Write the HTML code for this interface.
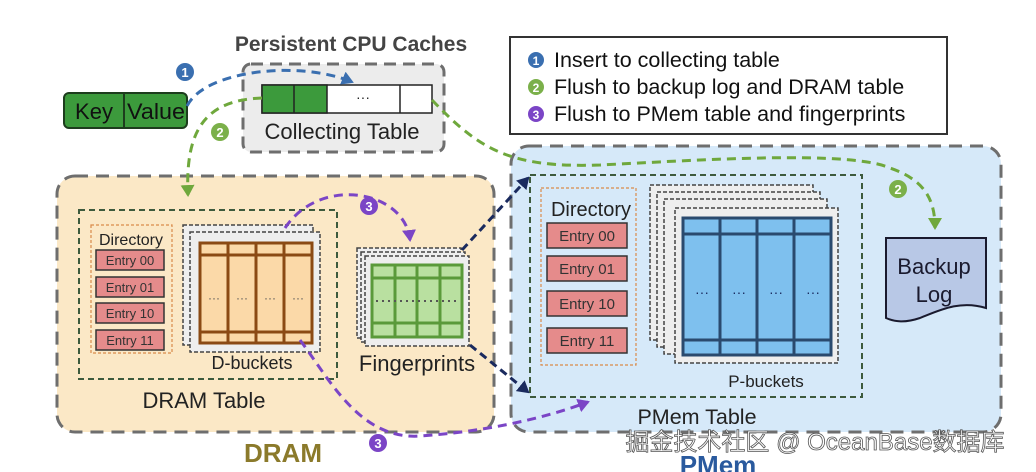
<!DOCTYPE html>
<html><head><meta charset="utf-8"><style>
html,body{margin:0;padding:0;background:#fff}
svg{display:block}
text{font-family:"Liberation Sans",Arial,sans-serif}
</style></head><body>
<svg width="1036" height="472" viewBox="0 0 1036 472" xmlns="http://www.w3.org/2000/svg">
<defs>
<marker id="ab" markerWidth="14" markerHeight="14" refX="10" refY="7" orient="auto" markerUnits="userSpaceOnUse"><path d="M0,0 L12,7 L0,14 z" fill="#3a6fb0"/></marker>
<marker id="ag" markerWidth="14" markerHeight="14" refX="10" refY="7" orient="auto" markerUnits="userSpaceOnUse"><path d="M0,0 L12,7 L0,14 z" fill="#6fa83c"/></marker>
<marker id="ap" markerWidth="14" markerHeight="14" refX="10" refY="7" orient="auto" markerUnits="userSpaceOnUse"><path d="M0,0 L12,7 L0,14 z" fill="#7b45c6"/></marker>
<marker id="an" markerWidth="14" markerHeight="14" refX="10" refY="7" orient="auto" markerUnits="userSpaceOnUse"><path d="M0,0 L12,7 L0,14 z" fill="#1a2a5e"/></marker>
</defs>

<rect x="57" y="176" width="437" height="256" rx="18" fill="#fbe8c6" stroke="#6e6e6e" stroke-width="3" stroke-dasharray="13,8"/>
<rect x="511" y="146" width="490" height="286" rx="18" fill="#d6e9f9" stroke="#6e6e6e" stroke-width="3" stroke-dasharray="13,8"/>

<text x="351" y="51" font-size="21" font-weight="bold" fill="#444" text-anchor="middle">Persistent CPU Caches</text>
<rect x="243" y="64" width="201" height="88" rx="8" fill="#ececec" stroke="#6e6e6e" stroke-width="3" stroke-dasharray="12,7"/>
<rect x="262" y="85" width="170" height="28" fill="#fff" stroke="#222" stroke-width="1.5"/>
<rect x="262" y="85" width="65" height="28" fill="#3c9a3c" stroke="#222" stroke-width="1.5"/>
<line x1="294" y1="85" x2="294" y2="113" stroke="#222" stroke-width="1.5"/>
<line x1="400" y1="85" x2="400" y2="113" stroke="#222" stroke-width="1.5"/>
<text x="363" y="102" font-size="14" text-anchor="middle" fill="#222">···</text>
<text x="342" y="139" font-size="22" text-anchor="middle" fill="#222">Collecting Table</text>

<rect x="64" y="93" width="123" height="35" rx="5" fill="#3c9a3c" stroke="#1d3d1d" stroke-width="2"/>
<line x1="124" y1="93" x2="124" y2="128" stroke="#1d3d1d" stroke-width="2"/>
<text x="94" y="119" font-size="22" text-anchor="middle" fill="#111">Key</text>
<text x="156" y="119" font-size="22" text-anchor="middle" fill="#111" textLength="58" lengthAdjust="spacingAndGlyphs">Value</text>

<rect x="510" y="37" width="437" height="97" fill="#fff" stroke="#333" stroke-width="2"/>
<circle cx="536" cy="60" r="8" fill="#3a6fb0"/><text x="536" y="65" font-size="12" font-weight="bold" fill="#fff" text-anchor="middle">1</text>
<circle cx="536" cy="87" r="8" fill="#7bb04a"/><text x="536" y="92" font-size="12" font-weight="bold" fill="#fff" text-anchor="middle">2</text>
<circle cx="536" cy="114" r="8" fill="#7b45c6"/><text x="536" y="119" font-size="12" font-weight="bold" fill="#fff" text-anchor="middle">3</text>
<text x="554" y="67" font-size="21.5" fill="#111">Insert to collecting table</text>
<text x="554" y="94" font-size="21.5" fill="#111">Flush to backup log and DRAM table</text>
<text x="554" y="121" font-size="21.5" fill="#111">Flush to PMem table and fingerprints</text>

<rect x="79" y="210" width="258" height="169" fill="none" stroke="#3d5a3d" stroke-width="2" stroke-dasharray="6,4"/>
<text x="204" y="408" font-size="22" text-anchor="middle" fill="#222">DRAM Table</text>
<rect x="91" y="225" width="81" height="128" fill="none" stroke="#d98a4a" stroke-width="1.2" stroke-dasharray="3,2"/>
<text x="131" y="245" font-size="16" text-anchor="middle" fill="#222">Directory</text>
<g fill="#e58b8b" stroke="#333" stroke-width="1.5">
<rect x="96" y="250" width="68" height="20"/><rect x="96" y="277" width="68" height="20"/><rect x="96" y="303" width="68" height="20"/><rect x="96" y="330" width="68" height="20"/>
</g>
<g font-size="13" text-anchor="middle" fill="#333">
<text x="130" y="265">Entry 00</text><text x="130" y="292">Entry 01</text><text x="130" y="318">Entry 10</text><text x="130" y="345">Entry 11</text>
</g>
<rect x="183" y="225" width="130" height="120" fill="#eee" stroke="#444" stroke-width="1.5" stroke-dasharray="4,2"/>
<rect x="190" y="232" width="130" height="120" fill="#eee" stroke="#444" stroke-width="1.5" stroke-dasharray="4,2"/>
<rect x="200" y="243" width="112" height="100" fill="#fbd9a8" stroke="#8b4a14" stroke-width="3"/>
<g stroke="#8b4a14" stroke-width="3">
<line x1="228" y1="243" x2="228" y2="343"/><line x1="256" y1="243" x2="256" y2="343"/><line x1="284" y1="243" x2="284" y2="343"/>
<line x1="200" y1="255" x2="312" y2="255"/><line x1="200" y1="332" x2="312" y2="332"/>
</g>
<g font-size="12" text-anchor="middle" fill="#555"><text x="214" y="302">···</text><text x="242" y="302">···</text><text x="270" y="302">···</text><text x="298" y="302">···</text></g>
<text x="252" y="369" font-size="18" text-anchor="middle" fill="#222">D-buckets</text>

<rect x="357" y="248" width="104" height="90" fill="#eee" stroke="#444" stroke-width="1.5" stroke-dasharray="4,2"/>
<rect x="361" y="252" width="104" height="90" fill="#eee" stroke="#444" stroke-width="1.5" stroke-dasharray="4,2"/>
<rect x="365" y="256" width="104" height="90" fill="#eee" stroke="#444" stroke-width="1.5" stroke-dasharray="4,2"/>
<rect x="372" y="265" width="90" height="72" fill="#b9e0a0" stroke="#5a9a3a" stroke-width="3"/>
<g stroke="#5a9a3a" stroke-width="3">
<line x1="395" y1="265" x2="395" y2="337"/><line x1="417" y1="265" x2="417" y2="337"/><line x1="440" y1="265" x2="440" y2="337"/>
<line x1="372" y1="278" x2="462" y2="278"/><line x1="372" y1="323" x2="462" y2="323"/>
</g>
<line x1="376" y1="301" x2="460" y2="301" stroke="#555" stroke-width="2" stroke-dasharray="2,4"/>
<text x="417" y="371" font-size="22" text-anchor="middle" fill="#222">Fingerprints</text>

<text x="283" y="462" font-size="26" font-weight="bold" text-anchor="middle" fill="#8b7a2b">DRAM</text>

<rect x="530" y="175" width="332" height="222" fill="none" stroke="#3d5a3d" stroke-width="2" stroke-dasharray="6,4"/>
<text x="697" y="424" font-size="21.5" text-anchor="middle" fill="#222">PMem Table</text>
<rect x="541" y="188" width="95" height="177" fill="none" stroke="#d98a4a" stroke-width="1.2" stroke-dasharray="3,2"/>
<text x="591" y="216" font-size="20" text-anchor="middle" fill="#222">Directory</text>
<g fill="#e58b8b" stroke="#333" stroke-width="1.5">
<rect x="547" y="223" width="80" height="25"/><rect x="547" y="256" width="80" height="25"/><rect x="547" y="291" width="80" height="25"/><rect x="547" y="328" width="80" height="25"/>
</g>
<g font-size="15" text-anchor="middle" fill="#333">
<text x="587" y="241">Entry 00</text><text x="587" y="274">Entry 01</text><text x="587" y="309">Entry 10</text><text x="587" y="346">Entry 11</text>
</g>
<rect x="650" y="185" width="163" height="155" fill="#eee" stroke="#444" stroke-width="1.5" stroke-dasharray="4,2"/>
<rect x="657" y="192" width="163" height="155" fill="#eee" stroke="#444" stroke-width="1.5" stroke-dasharray="4,2"/>
<rect x="664" y="199" width="163" height="155" fill="#eee" stroke="#444" stroke-width="1.5" stroke-dasharray="4,2"/>
<rect x="675" y="208" width="163" height="155" fill="#eee" stroke="#444" stroke-width="1.5" stroke-dasharray="4,2"/>
<rect x="683" y="218" width="148" height="137" fill="#7ec0ee" stroke="#2a4a6e" stroke-width="3"/>
<g stroke="#2a4a6e" stroke-width="3">
<line x1="720" y1="218" x2="720" y2="355"/><line x1="757" y1="218" x2="757" y2="355"/><line x1="794" y1="218" x2="794" y2="355"/>
<line x1="683" y1="234" x2="831" y2="234"/><line x1="683" y1="340" x2="831" y2="340"/>
</g>
<g font-size="14" text-anchor="middle" fill="#1a2a5e"><text x="702" y="297">···</text><text x="739" y="297">···</text><text x="776" y="297">···</text><text x="813" y="297">···</text></g>
<text x="766" y="387" font-size="17" text-anchor="middle" fill="#222">P-buckets</text>

<path d="M886,238 L986,238 L986,308 C960,300 940,310 920,318 C905,323 895,322 886,318 Z" fill="#b8c8e6" stroke="#1a1a2e" stroke-width="2"/>
<text x="934" y="274" font-size="22" text-anchor="middle" fill="#1a1a2e">Backup</text>
<text x="934" y="302" font-size="22" text-anchor="middle" fill="#1a1a2e">Log</text>

<path d="M187,106 C205,70 300,60 352,82" fill="none" stroke="#3a6fb0" stroke-width="3" stroke-dasharray="9,6" marker-end="url(#ab)"/>
<circle cx="185" cy="72" r="9" fill="#3a6fb0"/><text x="185" y="77" font-size="13" font-weight="bold" fill="#fff" text-anchor="middle">1</text>
<path d="M262,98 C205,100 185,130 188,195" fill="none" stroke="#6fa83c" stroke-width="3" stroke-dasharray="9,6" marker-end="url(#ag)"/>
<circle cx="220" cy="132" r="9" fill="#7bb04a"/><text x="220" y="137" font-size="13" font-weight="bold" fill="#fff" text-anchor="middle">2</text>
<path d="M432,100 C480,150 510,168 600,165 C700,160 850,150 890,168 C925,180 935,200 935,228" fill="none" stroke="#6fa83c" stroke-width="3" stroke-dasharray="9,6" marker-end="url(#ag)"/>
<circle cx="898" cy="189" r="9" fill="#7bb04a"/><text x="898" y="194" font-size="13" font-weight="bold" fill="#fff" text-anchor="middle">2</text>
<path d="M285,228 C320,175 405,190 410,240" fill="none" stroke="#7b45c6" stroke-width="3" stroke-dasharray="9,6" marker-end="url(#ap)"/>
<circle cx="369" cy="206" r="9" fill="#7b45c6"/><text x="369" y="211" font-size="13" font-weight="bold" fill="#fff" text-anchor="middle">3</text>
<path d="M300,340 C330,380 360,440 420,436 C480,432 540,420 588,402" fill="none" stroke="#7b45c6" stroke-width="3" stroke-dasharray="9,6" marker-end="url(#ap)"/>
<circle cx="378" cy="443" r="9" fill="#7b45c6"/><text x="378" y="448" font-size="13" font-weight="bold" fill="#fff" text-anchor="middle">3</text>
<path d="M462,250 L528,178" fill="none" stroke="#1a2a5e" stroke-width="3" stroke-dasharray="8,5" marker-end="url(#an)"/>
<path d="M470,345 L528,392" fill="none" stroke="#1a2a5e" stroke-width="3" stroke-dasharray="8,5" marker-end="url(#an)"/>

<text x="718" y="474" font-size="26" font-weight="bold" text-anchor="middle" fill="#2a5a9e">PMem</text>
<text x="815" y="450" font-size="24" text-anchor="middle" fill="#fff" stroke="#555" stroke-width="0.8" font-family="'Liberation Sans','Noto Sans CJK SC',sans-serif">掘金技术社区 @ OceanBase数据库</text>
</svg>
</body></html>
